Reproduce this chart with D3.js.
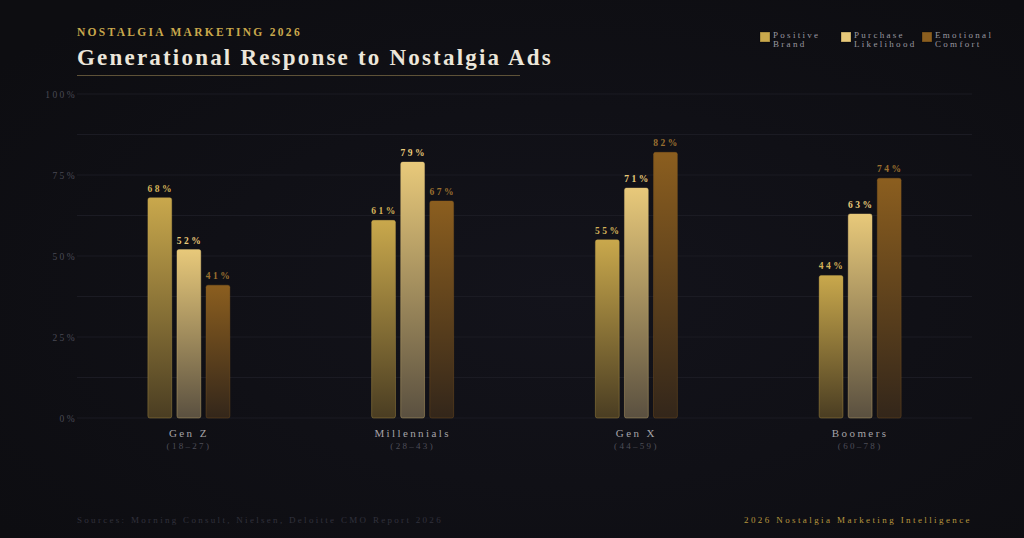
<!DOCTYPE html>
<html>
<head>
<meta charset="utf-8">
<script src="https://cdn.jsdelivr.net/npm/d3@7"></script>
<style>
  html, body { margin: 0; padding: 0; background: #0e0e13; overflow: hidden; }
  svg { display: block; font-family: "Liberation Serif", "Times New Roman", serif; }
</style>
</head>
<body>
<svg id="chart" width="1024" height="538"></svg>
<script>
// data
var generations = ["Gen Z", "Millennials", "Gen X", "Boomers"];
var ageRanges = ["(18–27)", "(28–43)", "(44–59)", "(60–78)"];
var seriesNames = ["Positive Brand", "Purchase Likelihood", "Emotional Comfort"];
var positiveBrand = [68, 61, 55, 44];
var purchaseLikelihood = [52, 79, 71, 63];
var emotionalComfort = [41, 67, 82, 74];
var yTicks = [0, 25, 50, 75, 100];

var colors = ["#c9a84c", "#e8c97a", "#8b5e1f"];
var labelColors = ["#d4b35a", "#e8c97a", "#9c7030"];
var legendLines = [["Positive", "Brand"], ["Purchase", "Likelihood"], ["Emotional", "Comfort"]];

var seriesValues = [positiveBrand, purchaseLikelihood, emotionalComfort];

var W = 1024, H = 538;
var margin = {top: 94, right: 52, bottom: 120, left: 77};
var width = W - margin.left - margin.right,
    height = H - margin.top - margin.bottom;

var svg = d3.select("#chart");
var defs = svg.append("defs");

// background glow
var bg = defs.append("radialGradient").attr("id", "bg")
    .attr("cx", "55%").attr("cy", "55%").attr("r", "70%");
bg.append("stop").attr("offset", "0%").attr("stop-color", "#13131b");
bg.append("stop").attr("offset", "100%").attr("stop-color", "#0d0d11");
svg.append("rect").attr("width", W).attr("height", H).attr("fill", "url(#bg)");

// bar gradients
var topCols = ["#c9a84c", "#e8c97a", "#8b5e1f"];
var botCols = ["#4a3d22", "#5a5040", "#33261a"];
colors.forEach(function(c, i) {
    var g = defs.append("linearGradient").attr("id", "grad" + i)
        .attr("x1", 0).attr("y1", 0).attr("x2", 0).attr("y2", 1);
    g.append("stop").attr("offset", "0%").attr("stop-color", topCols[i]);
    g.append("stop").attr("offset", "100%").attr("stop-color", botCols[i]);
});

// header
svg.append("text")
    .attr("x", 77).attr("y", 36)
    .attr("fill", "#c9a84c")
    .attr("font-size", 11.5).attr("font-weight", "bold")
    .attr("letter-spacing", 2.3)
    .text("NOSTALGIA MARKETING 2026");

svg.append("text")
    .attr("x", 77).attr("y", 65)
    .attr("fill", "#ece6da")
    .attr("font-size", 23).attr("font-weight", "bold")
    .attr("letter-spacing", 2.2)
    .text("Generational Response to Nostalgia Ads");

svg.append("line")
    .attr("x1", 77).attr("x2", 520).attr("y1", 75.5).attr("y2", 75.5)
    .attr("stroke", "#5e5238").attr("stroke-width", 1);

var g = svg.append("g")
    .attr("transform", "translate(" + margin.left + "," + margin.top + ")");

var x0 = d3.scaleBand().domain(generations).range([0, width]);
var x1 = d3.scaleBand().domain(seriesNames).range([0, 82]).paddingInner(0.18);
var y = d3.scaleLinear().domain([0, 100]).range([height, 0]);

// grid
g.append("g").selectAll("line")
    .data(d3.range(0, 100.1, 12.5))
    .enter().append("line")
    .attr("x1", 0).attr("x2", width)
    .attr("y1", function(d) { return y(d); })
    .attr("y2", function(d) { return y(d); })
    .attr("stroke", "#1b1b23").attr("stroke-width", 1);

// y axis
var yAxis = g.append("g")
    .call(d3.axisLeft(y).tickValues(yTicks).tickSize(0).tickPadding(0)
        .tickFormat(function(d) { return d + "%"; }));
yAxis.select(".domain").remove();
yAxis.selectAll("text")
    .attr("fill", "#4a4a54")
    .attr("font-size", 9.5)
    .attr("letter-spacing", 2.4)
    .attr("font-family", "Liberation Serif, serif")
    .attr("text-anchor", "end")
    .attr("x", 0)
    .attr("dy", "0.32em");

// bars
var groups = g.selectAll(".grp")
    .data(generations)
    .enter().append("g")
    .attr("class", "grp")
    .attr("transform", function(d) {
        return "translate(" + (x0(d) + x0.bandwidth() / 2 - 41) + ",0)";
    });

groups.each(function(gen, gi) {
    var sel = d3.select(this);
    var rows = seriesNames.map(function(s, si) {
        return {series: s, si: si, value: seriesValues[si][gi]};
    });
    sel.selectAll("rect").data(rows).enter().append("rect")
        .attr("x", function(d) { return x1(d.series); })
        .attr("y", function(d) { return y(d.value); })
        .attr("width", x1.bandwidth())
        .attr("height", function(d) { return height - y(d.value); })
        .attr("rx", 2)
        .attr("fill", function(d) { return "url(#grad" + d.si + ")"; })
        .attr("stroke", function(d) { return colors[d.si]; })
        .attr("stroke-opacity", 0.35)
        .attr("stroke-width", 1);
    sel.selectAll("text.val").data(rows).enter().append("text")
        .attr("class", "val")
        .attr("x", function(d) { return x1(d.series) + x1.bandwidth() / 2 + 1; })
        .attr("y", function(d) { return y(d.value) - 6; })
        .attr("text-anchor", "middle")
        .attr("fill", function(d) { return labelColors[d.si]; })
        .attr("font-size", 9.5).attr("font-weight", "bold")
        .attr("letter-spacing", 2.5)
        .text(function(d) { return d.value + "%"; });
});

// category labels
var cats = g.append("g").selectAll("g")
    .data(generations).enter().append("g")
    .attr("transform", function(d) {
        return "translate(" + (x0(d) + x0.bandwidth() / 2) + "," + height + ")";
    });
cats.append("text")
    .attr("y", 19).attr("text-anchor", "middle")
    .attr("fill", "#a6a4a8").attr("font-size", 11)
    .attr("letter-spacing", 2.4)
    .text(function(d) { return d; });
cats.append("text")
    .attr("y", 31).attr("text-anchor", "middle")
    .attr("fill", "#4e4e58").attr("font-size", 9)
    .attr("letter-spacing", 2.3)
    .text(function(d, i) { return ageRanges[i]; });

// legend
var legend = svg.append("g").selectAll("g")
    .data(seriesNames).enter().append("g")
    .attr("transform", function(d, i) { return "translate(" + (760 + i * 81) + ",32)"; });
legend.append("rect")
    .attr("width", 10).attr("height", 10)
    .attr("fill", function(d, i) { return colors[i]; })
    .attr("stroke", "#000").attr("stroke-opacity", 0.3);
legend.each(function(d, i) {
    var t = d3.select(this).append("text")
        .attr("fill", "#9a98a0").attr("font-size", 9)
        .attr("letter-spacing", 2.3);
    legendLines[i].forEach(function(line, li) {
        t.append("tspan").attr("x", 13).attr("y", 6 + li * 9).text(line);
    });
});

// footer
svg.append("text")
    .attr("x", 77).attr("y", 523)
    .attr("fill", "#31313c").attr("font-size", 9)
    .attr("letter-spacing", 2.3)
    .text("Sources: Morning Consult, Nielsen, Deloitte CMO Report 2026");
svg.append("text")
    .attr("x", 972).attr("y", 523)
    .attr("text-anchor", "end")
    .attr("fill", "#b8963e").attr("font-size", 9)
    .attr("letter-spacing", 2.4)
    .text("2026 Nostalgia Marketing Intelligence");
</script>
</body>
</html>
